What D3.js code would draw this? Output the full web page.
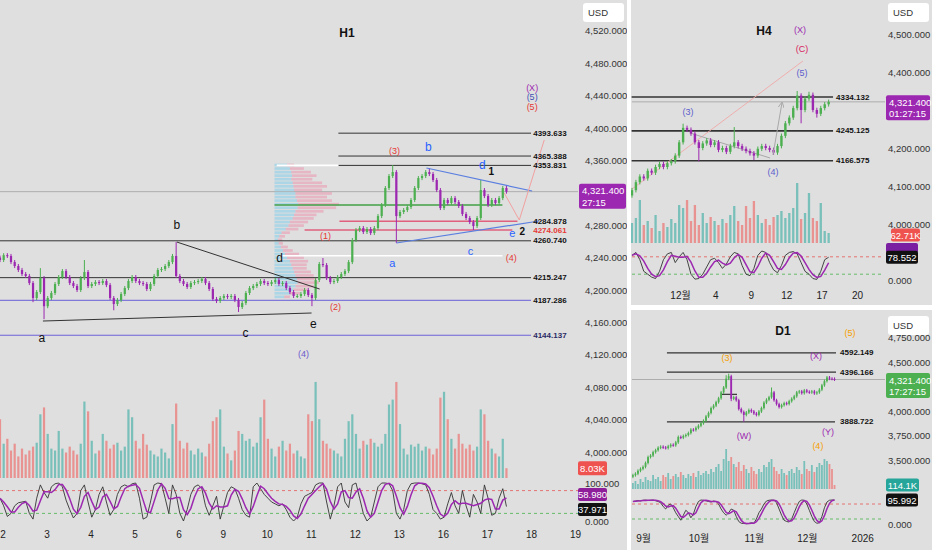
<!DOCTYPE html>
<html><head><meta charset="utf-8">
<script src="https://cdn.jsdelivr.net/npm/d3@7/dist/d3.min.js"></script>
<style>html,body{margin:0;padding:0;background:#dfdfdf;overflow:hidden}svg{display:block}</style>
</head><body>
<svg id="chart" width="932" height="550"></svg>
<script>
// ================= DATA =================
// ---- H1 ----
const h1DayLabels = ['2','3','4','5','6','9','10','11','12','13','16','17','18','19'];
const h1PriceTicks = [4000,4040,4080,4120,4160,4200,4240,4280,4360,4400,4440,4480,4520];
const h1FirstOpen = 4240;
const h1Close = [
 4237,4243,4242,4234.5,4229.6,4224.7,4219.7,4217.3,4208.6,4190.1,
 4197.5,4214.8,4180,4190.1,4196.3,4207.4,4216,4223.4,4216,4208.6,
 4204.9,4200,4214.8,4222.2,4204.9,4207.4,4209.8,4208.6,4211.1,4206.1,
 4190.1,4182.7,4187.6,4195,4202.4,4211.1,4216,4211.1,4208.6,4207.4,
 4201.2,4207.4,4217.3,4224.7,4225.9,4229.6,4234.5,4242,4217.3,4211.1,
 4207.4,4203.7,4208.6,4209.8,4211.1,4213.6,4208.6,4201.2,4188.9,4186.4,
 4190.1,4192.6,4191.3,4192.6,4187.6,4179,4183.9,4196.3,4202.4,4204.9,
 4207.4,4211.1,4208.6,4207.4,4209.8,4212.3,4207.4,4208.6,4202.4,4197.5,
 4192.6,4192.6,4195,4200,4193.8,4190.1,4212.3,4232.1,4230.8,4214.8,
 4209.8,4211.1,4216,4219.7,4223.4,4234.5,4261.7,4274,4276.5,4271.6,
 4275.3,4270.3,4276.5,4291.3,4304.9,4325.9,4340.7,4345.6,4291.3,4296.3,
 4298.7,4302.4,4311.1,4325.9,4338.2,4340.7,4345.6,4343.2,4335.8,4323.4,
 4301.2,4311.1,4307.4,4313.5,4308.6,4303.7,4293.8,4288.9,4283.9,4279,
 4288.9,4323.4,4316,4304.9,4311.1,4307.4,4313.5,4325.9,4321.4];
// [bar, high, low] for long wicks
const h1Spikes = [[9,null,4185],[11,4227,null],[12,null,4164],[23,4237,null],[31,null,4175],[48,4259.2,null],
 [65,null,4172.8],[85,null,4180],[88,4239.5,null],[107,4354.3,null],[108,null,4258],[117,4350.6,null],[129,null,4274],[131,4335.8,null]];
const h1Vol = [
 60,35,40,28,35,22,30,24,28,32, 36,65,72,45,30,28,48,30,26,32, 28,24,35,78,68,38,25,28,45,38,
 30,34,36,28,32,70,62,38,30,45, 34,28,24,22,30,26,20,55,76,38, 30,36,28,24,30,26,22,35,58,62,
 70,32,25,18,28,48,45,38,40,32, 36,62,80,40,30,22,32,38,28,35, 25,28,22,20,65,58,98,60,38,35,
 30,28,25,22,40,58,65,45,30,38, 34,40,36,32,35,45,75,80,98,55, 30,24,34,32,35,28,32,30,24,30,
 82,88,60,40,30,45,35,30,34,28, 32,70,65,38,30,25,22,40,10];
const h1StochK = [
 60,40,12,20,40,48,50,52,20,5, 60,95,75,60,90,98,100,90,55,30, 8,20,80,95,50,10,30,70,90,50,
 15,30,70,90,95,90,98,100,60,5, 10,50,95,100,98,60,20,95,70,20, 0,30,70,90,95,85,40,15,40,65,
 5,40,75,90,85,60,30,15,10,90, 100,85,70,60,50,45,40,45,30,10, 0,10,45,65,70,75,95,100,100,50,
 5,40,90,100,50,35,95,100,60,20, 0,10,50,90,100,100,98,80,20,5, 30,80,98,100,100,98,95,70,30,20,
 5,10,45,75,40,20,80,40,10,70, 50,20,95,60,15,20,60,85,38];
// volume profile rows (top price, step) and up/down volume per row
const vpTopPrice = 4356, vpStep = 4.4;
const vpUp   = [18,22,24,25,24,26,27,28,30,30,32,34,33,30,28,26,22,20,16,10,7,5,6,9,12,15,18,22,24,26,28,30,32,33,30,27,22,14];
const vpDown = [10,20,28,35,30,42,48,40,52,45,50,58,55,40,32,30,26,22,18,12,8,6,6,10,14,20,24,26,22,20,24,26,28,30,26,20,15,8];
// annotation lines [bar1, price1, bar2, price2, color, width]
const h1Lines = [
 [48.2,4259.2,87.1,4201.2,'#333',1],
 [11.7,4161.7,84.9,4171.6,'#333',1],
 [116.2,4350.6,145,4322.2,'#5b7fe0',1.2],
 [108,4258,146.9,4285.2,'#5b7fe0',1.2],
 [137.4,4319.7,141.5,4286.4,'#f2a0a0',1],
 [141.5,4286.4,148.3,4385.2,'#f2a0a0',1]];
// horizontal levels [price, barStart, barEnd, color, width, label, labelColor]
const h1Levels = [
 [4393.633,92.2,144.7,'#333',1,'4393.633','#111'],
 [4365.388,92.2,144.7,'#333',1,'4365.388','#111'],
 [4353.831,92.2,144.7,'#333',1,'4353.831','#111'],
 [4353.831,75.4,92.2,'#ffffff',1.6,null,null],
 [4304.9,74.8,136.9,'#43a047',1.6,null,null],
 [4242.3,76.2,136.9,'#ffffff',1.6,null,null],
 [4284.878,92.5,141,'#e0607e',1.6,'4284.878','#111'],
 [4274.061,83,139.6,'#e0607e',1.6,'4274.061','#e53935'],
 [4260.740,-2,144.7,'#333',1,'4260.740','#111'],
 [4215.247,-2,144.7,'#333',1,'4215.247','#111'],
 [4187.286,-2,144.7,'#6a5fd8',1,'4187.286','#111'],
 [4144.137,-2,144.7,'#6a5fd8',1,'4144.137','#2b2b66']];
// text annotations [bar, price, text, color, size, weight]
const h1Texts = [
 [107.5,4371.6,'(3)','#e53935',9,400],[88.7,4266.6,'(1)','#e53935',9,400],[91.4,4179,'(2)','#e53935',9,400],[139.3,4239.5,'(4)','#e53935',9,400],
 [116.7,4376.5,'b','#2962ff',12,400],[131.4,4354.3,'d','#2962ff',12,400],[106.9,4233.3,'a','#2962ff',11,400],[128.2,4248.1,'c','#2962ff',11,400],[139.6,4270.3,'e','#2962ff',11,400],
 [133.9,4346.9,'1','#111',10,700],[142.3,4272.8,'2','#111',10,700],
 [76.2,4239.5,'d','#111',12,400],[48.2,4280.2,'b','#111',12,400],[11.4,4140.7,'a','#111',12,400],[66.9,4146.9,'c','#111',12,400],[85.4,4158,'e','#111',12,400],
 [82.7,4121,'(4)','#6a5acd',9,400],
 [145,4449.4,'(X)','#9c27b0',9,400],[145,4438.2,'(5)','#3f51b5',9,400],[145,4425.9,'(5)','#e53935',9,400]];

// ---- H4 ----
const h4DayLabels = ['12월','4','9','12','17','20'];
const h4DayTicks = [0,3,6,9,12,15];
const h4PriceTicks = [4000,4100,4200,4400,4500];
const h4FirstOpen = 4075;
const h4Close = [
 4089,4110,4125,4120,4140,4135,4150,4158,4150,4160,
 4165,4180,4215,4253,4248,4238,4215,4200,4212,4220,
 4208,4215,4195,4200,4190,4205,4215,4205,4198,4192,
 4186,4180,4198,4205,4200,4195,4188,4205,4232,4265,
 4280,4305,4338,4300,4330,4340,4300,4290,4305,4315,4321.4];
const h4Spikes = [[13,4264,null],[17,null,4165],[26,4255,null],[31,null,4168],[42,4350,null],[43,null,4265],[45,4348,null],[47,null,4280]];
const h4Vol = [20,25,43,18,22,15,28,12,20,16, 24,20,38,35,43,22,38,18,30,20, 26,22,18,24,20,28,37,22,18,37,
 25,42,28,20,24,18,26,28,32,25, 30,35,60,24,30,50,25,22,40,12, 10];
const h4StochK = [85,95,70,30,20,10,5,30,70,90, 95,60,80,95,70,20,3,5,20,45, 70,75,60,40,55,80,95,90,50,20,
 15,40,85,100,95,60,35,25,50,85, 95,98,90,60,30,20,5,2,30,70, 78.5];
// [day1, price1, day2, price2, color, width]
const h4Lines = [[-4.07,4092,10.42,4429,'#f0a8a8',0.9],[0.85,4239.5,7.63,4173.7,'#a8a8a8',1]];
const h4Arrow = [7.88,4181.6,8.64,4318.4];
const h4Levels = [[4334.132,'4334.132'],[4245.125,'4245.125'],[4166.575,'4166.575']];
const h4Texts = [[0.68,4294.7,'(3)','#5c5ccc'],[7.88,4136.8,'(4)','#5c5ccc'],[10.34,4397.4,'(5)','#5c5ccc'],[10.34,4460.5,'(C)','#d81b60'],[10.17,4510.5,'(X)','#9c27b0']];

// ---- D1 ----
const d1MonthLabels = ['9월','10월','11월','12월','2026'];
const d1MonthTicks = [0,22,44,65,87];
const d1PriceTicks = [3500,3750,4000,4500,4750];
const d1FirstOpen = 3330;
const d1Close = [
 3345,3360,3390,3410,3430,3470,3530,3545,3580,3600,
 3625,3635,3628,3622,3640,3655,3650,3680,3735,3728,
 3745,3755,3775,3810,3805,3828,3850,3875,3900,3945,
 3980,4030,4055,4090,4130,4190,4240,4330,4355,4125,
 4140,4110,4020,3990,3960,3985,4010,3995,3975,3960,
 3995,4030,4085,4115,4140,4190,4110,4070,4040,4060,
 4080,4072,4100,4125,4150,4190,4200,4182,4210,4196,
 4190,4200,4180,4190,4218,4262,4305,4342,4330,4328,4321.4];
const d1Spikes = [[37,4365,null],[38,4381,null],[39,null,4100],[44,null,3890],[55,4240,null],[77,4350,null]];
const d1Vol = [6,8,5,10,7,12,9,8,14,10, 12,8,14,12,16,10,13,15,12,17, 14,11,15,13,16,12,18,14,16,18,
 15,20,17,22,25,18,30,40,28,32, 25,22,27,18,24,20,16,22,18,15, 20,17,24,22,27,30,22,18,15,20,
 16,14,18,20,16,22,19,15,28,20, 18,24,17,22,26,24,30,28,25,20, 4];
const d1StochK = [90,92,94, 92,95,96,94,95,96,93,90,85,70, 60,75,80,65,45,30,15,35,55,45, 25,40,70,90,96,95,93,90,88,92,
 90,80,60,45,35,45,60,55,30,10, 3,2,1,2,5,3,20,45,60,80, 92,95,96,95,85,60,35,15,10,8,
 20,45,70,90,96,95,80,55,30,10, 3,5,30,65,88,95,96,96];
const d1Levels = [[4592.149,9.5,76.6,'4592.149'],[4396.166,9.5,76.6,'4396.166'],[3888.722,9.5,76.2,'3888.722']];
const d1Lines = [[31.3,4170,37.3,4170,'#333',1.2]];
const d1Texts = [[82.1,4796,'(5)','#f5a000'],[33.3,4541,'(3)','#f5a000'],[68.7,4561,'(X)','#9c27b0'],[40.1,3745,'(W)','#9c27b0'],[73.4,3786,'(Y)','#9c27b0'],[69.4,3643,'(4)','#f5a000']];

// ================= DRAW =================
const FONT = '"Liberation Sans", "Noto Sans CJK KR", Arial, sans-serif';
const UP = '#4caf50', DN = '#9c27b0';
const VUP = 'rgba(38,166,154,0.55)', VDN = 'rgba(239,83,80,0.55)';
const fmt = d3.format(',.3f');
const svg = d3.select('#chart').attr('font-family', FONT);
svg.append('rect').attr('width',932).attr('height',550).attr('fill','#dfdfdf');
const defs = svg.append('defs');
defs.append('marker').attr('id','arr').attr('viewBox','0 0 10 10').attr('refX',8).attr('refY',5)
  .attr('markerWidth',6).attr('markerHeight',6).attr('orient','auto')
  .append('path').attr('d','M0,0L10,5L0,10').attr('fill','none').attr('stroke','#a8a8a8').attr('stroke-width',1.5);

function candlesFrom(closes, firstOpen, spikes, wick){
  const sp = new Map(spikes.map(s=>[s[0],s]));
  return closes.map((c,i)=>{
    const o = i ? closes[i-1] : firstOpen;
    let h = Math.max(o,c)+wick, l = Math.min(o,c)-wick;
    const s = sp.get(i);
    if(s){ if(s[1]!=null) h=Math.max(h,s[1]); if(s[2]!=null) l=Math.min(l,s[2]); }
    return {i,o,h,l,c,up:c>=o};
  });
}
const sma3 = a => a.map((v,i)=>d3.mean(a.slice(Math.max(0,i-2),i+1)));

function drawVolume(g, cs, bx, yV, vol, w){
  g.selectAll(null).data(cs).enter().append('rect')
    .attr('x',d=>bx(d.i)-w/2).attr('width',w)
    .attr('y',d=>yV(vol[d.i])).attr('height',d=>yV(0)-yV(vol[d.i]))
    .attr('fill',d=>d.up?VUP:VDN);
}
function drawCandles(g, cs, bx, y, bw){
  const e = g.selectAll(null).data(cs).enter();
  e.append('line').attr('x1',d=>bx(d.i)).attr('x2',d=>bx(d.i))
    .attr('y1',d=>y(d.h)).attr('y2',d=>y(d.l)).attr('stroke',d=>d.up?UP:DN).attr('stroke-width',1);
  e.append('rect').attr('x',d=>bx(d.i)-bw/2).attr('width',bw)
    .attr('y',d=>y(Math.max(d.o,d.c))).attr('height',d=>Math.max(1,Math.abs(y(d.o)-y(d.c))))
    .attr('fill',d=>d.up?UP:DN);
}
function drawStoch(g, k, bx, yS, x0, x1){
  g.append('line').attr('x1',x0).attr('x2',x1).attr('y1',yS(80)).attr('y2',yS(80)).attr('stroke','#e57373').attr('stroke-dasharray','3,3');
  g.append('line').attr('x1',x0).attr('x2',x1).attr('y1',yS(20)).attr('y2',yS(20)).attr('stroke','#66bb6a').attr('stroke-dasharray','3,3');
  const ln = d3.line().x((v,i)=>bx(i)).y(v=>yS(v));
  g.append('path').attr('d',ln(k)).attr('fill','none').attr('stroke','#333').attr('stroke-width',0.9);
  g.append('path').attr('d',ln(sma3(k))).attr('fill','none').attr('stroke','#9c27b0').attr('stroke-width',1.5);
}
function axisR(x, y, ticks, size){
  const g = svg.append('g').attr('transform',`translate(${x},0)`)
    .call(d3.axisRight(y).tickValues(ticks).tickSize(0).tickPadding(3).tickFormat(fmt));
  g.select('.domain').remove();
  g.selectAll('text').attr('fill','#333').attr('font-size',size||9.5).attr('font-family',FONT);
  return g;
}
function axisB(yPos, x, ticks, labels){
  const g = svg.append('g').attr('transform',`translate(0,${yPos})`)
    .call(d3.axisBottom(x).tickValues(ticks).tickSize(0).tickPadding(3).tickFormat((d,i)=>labels[i]));
  g.select('.domain').remove();
  g.selectAll('text').attr('fill','#222').attr('font-size',10).attr('font-family',FONT);
}
function txt(x,y,s,color,size,weight,anchor){
  svg.append('text').attr('x',x).attr('y',y).attr('dominant-baseline','central')
    .attr('text-anchor',anchor||'middle').attr('fill',color).attr('font-size',size)
    .attr('font-weight',weight||400).text(s);
}
function tagBox(x,yc,w,h,bg,label,fg){
  svg.append('rect').attr('x',x).attr('y',yc-h/2).attr('width',w).attr('height',h).attr('rx',2).attr('fill',bg);
  if(label) txt(x+w/2,yc,label,fg||'#fff',9.5,400);
}
function tag2(x,top,w,bg,l1,l2){
  svg.append('rect').attr('x',x).attr('y',top).attr('width',w).attr('height',25).attr('rx',2).attr('fill',bg);
  txt(x+3,top+7,l1,'#fff',9.5,400,'start');
  txt(x+3,top+18.5,l2,'#fff',9.5,400,'start');
}
function usd(x,y){
  svg.append('rect').attr('x',x).attr('y',y).attr('width',41).attr('height',19).attr('rx',3).attr('fill','#fff');
  txt(x+15,y+9.5,'USD','#333',9.5,400);
}

// ---------- H1 panel ----------
{
  const x = d3.scaleLinear().domain([0,13]).range([2.5,575]);
  const bx = i => x(i/12 - 0.0568);
  const y = d3.scaleLinear().domain([4000,4400]).range([452,128]);
  const yV = d3.scaleLinear().domain([0,100]).range([478,380]);
  const yS = d3.scaleLinear().domain([0,100]).range([521,483]);
  const cs = candlesFrom(h1Close, h1FirstOpen, h1Spikes, 2.5);
  const g = svg.append('g');
  g.append('line').attr('x1',0).attr('x2',578).attr('y1',y(4321.4)).attr('y2',y(4321.4)).attr('stroke','#a0a0a0').attr('stroke-width',0.8);
  drawVolume(g, cs, bx, yV, h1Vol, 2.2);
  // volume profile
  const vs = d3.scaleLinear().domain([0,100]).range([0,70]);
  const vx0 = bx(74.8);
  vpUp.forEach((u,r)=>{
    const top = y(vpTopPrice - r*vpStep), hh = y(vpTopPrice-(r+1)*vpStep) - top - 0.9;
    g.append('rect').attr('x',vx0).attr('y',top).attr('width',vs(u)).attr('height',hh).attr('fill','rgba(130,205,235,0.55)');
    g.append('rect').attr('x',vx0+vs(u)).attr('y',top).attr('width',vs(vpDown[r])).attr('height',hh).attr('fill','rgba(240,120,155,0.4)');
  });
  h1Levels.forEach(l=>{
    g.append('line').attr('x1',bx(l[1])).attr('x2',bx(l[2])).attr('y1',y(l[0])).attr('y2',y(l[0])).attr('stroke',l[3]).attr('stroke-width',l[4]);
  });
  drawCandles(g, cs, bx, y, 2.2);
  h1Lines.forEach(l=>{
    g.append('line').attr('x1',bx(l[0])).attr('y1',y(l[1])).attr('x2',bx(l[2])).attr('y2',y(l[3])).attr('stroke',l[4]).attr('stroke-width',l[5]);
  });
  h1Levels.filter(l=>l[5]).forEach(l=>txt(bx(145.3),y(l[0]),l[5],l[6],8,700,'start'));
  h1Texts.forEach(t=>txt(bx(t[0]),y(t[1]),t[2],t[3],t[4],t[5]));
  drawStoch(g, h1StochK, bx, yS, 0, 578);
  txt(347,33,'H1','#111',12,700);
  axisR(582, y, h1PriceTicks);
  axisR(582, yS, [0,100]);
  axisB(528, x, d3.range(h1DayLabels.length), h1DayLabels);
  tag2(579, y(4321.4)-8, 47, '#9c27b0', '4,321.400', '27:15');
  tagBox(578, yV(h1Vol[h1Vol.length-1]), 29, 14, '#ef5350', '8.03K');
  tagBox(578, 494.5, 29, 13, '#8e1e9a', '58.980');
  tagBox(578, 509.5, 29, 13, '#111', '37.971');
  usd(583,3);
}

// ---------- H4 panel ----------
{
  const x = d3.scaleLinear().domain([0,12]).range([680,821.6]);
  const bx = i => x(i/3 - 4.07);
  const y = d3.scaleLinear().domain([4000,4400]).range([224,72]);
  const yV = d3.scaleLinear().domain([0,60]).range([243,183]);
  const yS = d3.scaleLinear().domain([0,100]).range([280,251]);
  const cs = candlesFrom(h4Close, h4FirstOpen, h4Spikes, 6);
  const g = svg.append('g');
  g.append('line').attr('x1',632).attr('x2',885).attr('y1',y(4321.4)).attr('y2',y(4321.4)).attr('stroke','#a0a0a0').attr('stroke-width',0.8);
  drawVolume(g, cs, bx, yV, h4Vol, 2.3);
  h4Levels.forEach(l=>{
    g.append('line').attr('x1',x(-4.1)).attr('x2',x(12.97)).attr('y1',y(l[0])).attr('y2',y(l[0])).attr('stroke','#333').attr('stroke-width',1.6);
    txt(x(13.22),y(l[0]),l[1],'#111',8,700,'start');
  });
  h4Lines.forEach(l=>g.append('line').attr('x1',x(l[0])).attr('y1',y(l[1])).attr('x2',x(l[2])).attr('y2',y(l[3])).attr('stroke',l[4]).attr('stroke-width',l[5]));
  drawCandles(g, cs, bx, y, 2.4);
  g.append('line').attr('x1',x(h4Arrow[0])).attr('y1',y(h4Arrow[1])).attr('x2',x(h4Arrow[2])).attr('y2',y(h4Arrow[3]))
    .attr('stroke','#a8a8a8').attr('stroke-width',1).attr('marker-end','url(#arr)');
  h4Texts.forEach(t=>txt(x(t[0]),y(t[1]),t[2],t[3],9,400));
  drawStoch(g, h4StochK, bx, yS, 632, 884);
  txt(764,31,'H4','#111',12,700);
  axisR(885, y, h4PriceTicks);
  axisR(885, yS, [0]);
  axisB(289, x, h4DayTicks, h4DayLabels);
  tag2(886, y(4321.4)-6.5, 44, '#9c27b0', '4,321.400', '01:27:15');
  tagBox(891, 235, 29, 13, '#ef5350', '62.71K');
  tagBox(886, 248, 32, 10, '#7b1fa2', null);
  tagBox(886, yS(78.552), 32, 13, '#111', '78.552');
  usd(888,3);
}

// ---------- D1 panel ----------
{
  const x = d3.scaleLinear().domain([0,65]).range([643,806.8]);
  const bx = i => x(i - 4);
  const y = d3.scaleLinear().domain([3750,4500]).range([435.5,362]);
  const yV = d3.scaleLinear().domain([0,40]).range([489,449]);
  const yS = d3.scaleLinear().domain([0,100]).range([524,499]);
  const cs = candlesFrom(d1Close, d1FirstOpen, d1Spikes, 15);
  const g = svg.append('g');
  g.append('line').attr('x1',632).attr('x2',885).attr('y1',y(4321.4)).attr('y2',y(4321.4)).attr('stroke','#a0a0a0').attr('stroke-width',0.8);
  drawVolume(g, cs, bx, yV, d1Vol, 1.8);
  d1Levels.forEach(l=>{
    g.append('line').attr('x1',x(l[1])).attr('x2',x(l[2])).attr('y1',y(l[0])).attr('y2',y(l[0])).attr('stroke','#333').attr('stroke-width',1.2);
    txt(x(78.2),y(l[0]),l[3],'#111',8,700,'start');
  });
  d1Lines.forEach(l=>g.append('line').attr('x1',x(l[0])).attr('y1',y(l[1])).attr('x2',x(l[2])).attr('y2',y(l[3])).attr('stroke',l[4]).attr('stroke-width',l[5]));
  drawCandles(g, cs, bx, y, 1.8);
  d1Texts.forEach(t=>txt(x(t[0]),y(t[1]),t[2],t[3],9,400));
  drawStoch(g, d1StochK, bx, yS, 632, 884);
  txt(783,331,'D1','#111',12,700);
  axisR(885, y, d1PriceTicks);
  axisR(885, yS, [0]);
  axisB(532, x, d1MonthTicks, d1MonthLabels);
  tag2(886, y(4321.4)-6.5, 44, '#4caf50', '4,321.400', '17:27:15');
  tagBox(886, yV(d1Vol[d1Vol.length-1]), 33, 13, '#26a69a', '114.1K');
  tagBox(886, yS(95.992), 32, 13, '#111', '95.992');
  usd(888,316);
}

// separators
svg.append('rect').attr('x',627).attr('y',0).attr('width',4).attr('height',550).attr('fill','#fff');
svg.append('rect').attr('x',631).attr('y',305).attr('width',301).attr('height',5).attr('fill','#fff');
</script>
</body></html>
